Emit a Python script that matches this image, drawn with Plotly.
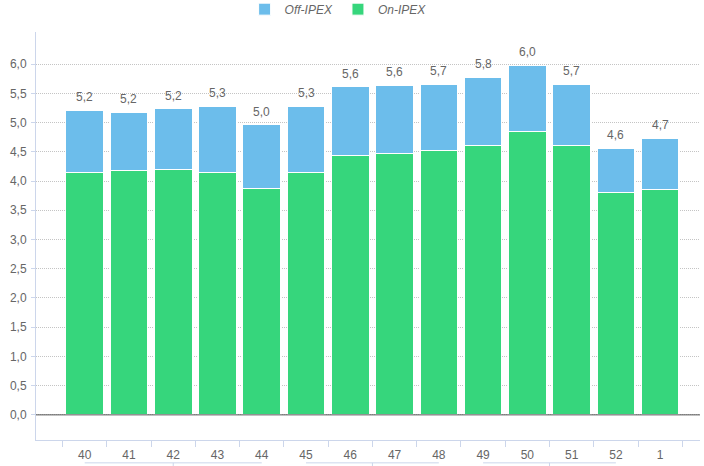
import plotly.graph_objects as go

weeks = ["40", "41", "42", "43", "44", "45", "46", "47", "48", "49", "50", "51", "52", "1"]
on_ipex = [4.15, 4.18, 4.19, 4.15, 3.87, 4.14, 4.43, 4.48, 4.53, 4.60, 4.85, 4.60, 3.80, 3.85]
off_ipex = [1.06, 1.00, 1.05, 1.13, 1.09, 1.14, 1.18, 1.16, 1.13, 1.18, 1.13, 1.06, 0.76, 0.88]
month_groups = [("40", "44"), ("45", "48"), ("49", "52")]
y_ticks = [i * 0.5 for i in range(13)]

totals = [a + b for a, b in zip(on_ipex, off_ipex)]
total_labels = [f"{t:.1f}".replace(".", ",") for t in totals]

FONT = "Liberation Sans, Arial, sans-serif"
GREY = "#666666"
AXIS = "#ccd6eb"

fig = go.Figure()
fig.add_trace(go.Bar(x=weeks, y=on_ipex, name="On-IPEX",
                     marker=dict(color="#36d67c", line=dict(color="white", width=1)),
                     width=0.85))
fig.add_trace(go.Bar(x=weeks, y=off_ipex, name="Off-IPEX",
                     marker=dict(color="#6cbdeb", line=dict(color="white", width=1)),
                     width=0.85))

idx = {w: i for i, w in enumerate(weeks)}
annotations = [dict(x=idx[w], y=t, text=lbl, showarrow=False, yanchor="bottom", yshift=4,
                    font=dict(family=FONT, size=12, color=GREY))
               for w, t, lbl in zip(weeks, totals, total_labels)]

shapes = [dict(type="line", xref="paper", yref="y", x0=0, x1=1, y0=0, y1=0,
               line=dict(color="#555555", width=1), layer="above")]
for a, b in month_groups:
    shapes.append(dict(type="line", xref="x", yref="paper", x0=idx[a], x1=idx[b],
                       y0=-0.056, y1=-0.056, line=dict(color=AXIS, width=1)))
    mid = (idx[a] + idx[b]) / 2
    shapes.append(dict(type="line", xref="x", yref="paper", x0=mid, x1=mid,
                       y0=-0.056, y1=-0.075, line=dict(color=AXIS, width=1)))

fig.update_layout(
    width=704, height=466,
    margin=dict(l=36, r=4, t=32, b=26, autoexpand=False),
    barmode="stack",
    bargap=0.15,
    plot_bgcolor="white", paper_bgcolor="white",
    separators=",.",
    font=dict(family=FONT, color=GREY, size=12),
    shapes=shapes,
    annotations=annotations,
    legend=dict(orientation="h", x=0.455, xanchor="center", y=1.056, yanchor="middle",
                traceorder="reversed",
                font=dict(family=FONT, size=12, color=GREY, style="italic"),
                itemwidth=30),
    xaxis=dict(type="category", range=[-1.1, 13.9], showgrid=False, automargin=False,
               showline=True, linecolor=AXIS, linewidth=1,
               ticks="outside", tickson="boundaries", ticklen=6, tickcolor=AXIS,
               ticklabelstandoff=4,
               tickfont=dict(family=FONT, size=12, color=GREY), fixedrange=True),
    yaxis=dict(range=[-0.43, 6.55], tickvals=y_ticks, tickformat=".1f", automargin=False,
               showgrid=True, gridcolor="#c4c4c4", griddash="1px,1px", gridwidth=1,
               zeroline=False,
               showline=True, linecolor=AXIS, linewidth=1,
               ticks="outside", ticklen=4, tickcolor=AXIS, ticklabelstandoff=2,
               tickfont=dict(family=FONT, size=12, color=GREY)),
)

fig.write_html("out.html", config={"displayModeBar": False},
               post_script="document.body.style.margin='0';document.body.style.overflow='hidden';")
